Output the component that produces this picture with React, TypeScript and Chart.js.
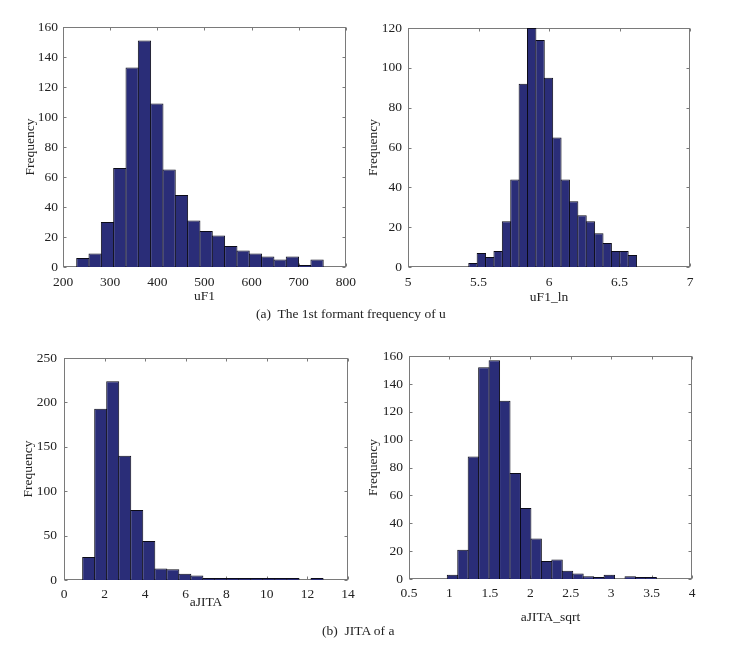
import React, { useEffect, useRef } from 'react';
import { Chart, registerables } from 'chart.js';

Chart.register(...registerables);

// ---- Data ----
const uF1Bins = [242.1, 268.2, 294.4, 320.5, 346.7, 372.8, 399.0, 425.1, 451.3, 477.4, 503.6, 529.7, 555.9, 582.0, 608.2, 634.3, 660.5, 686.6, 712.8, 738.9];
const uF1Counts = [6, 9, 30, 66, 133, 151, 109, 65, 48, 31, 24, 21, 14, 11, 9, 7, 5, 7, 1, 5];

const uF1LnBins = [5.4608, 5.5203, 5.5798, 5.6393, 5.6988, 5.7583, 5.8178, 5.8773, 5.9368, 5.9963, 6.0558, 6.1153, 6.1748, 6.2343, 6.2938, 6.3533, 6.4128, 6.4723, 6.5318, 6.5913];
const uF1LnCounts = [2, 7, 5, 8, 23, 44, 92, 120, 114, 95, 65, 44, 33, 26, 23, 17, 12, 8, 8, 6];

const aJitaBins = [1.216, 1.809, 2.401, 2.994, 3.586, 4.179, 4.771, 5.364, 5.956, 6.549, 7.141, 7.734, 8.326, 8.919, 9.511, 10.104, 10.696, 11.289, 11.881, 12.474];
const aJitaCounts = [26, 193, 224, 140, 79, 44, 13, 12, 7, 5, 2, 1, 1, 2, 1, 1, 1, 1, 0, 1];

const aJitaSqrtBins = [1.0381, 1.1674, 1.2967, 1.426, 1.5553, 1.6846, 1.8139, 1.9432, 2.0725, 2.2018, 2.3311, 2.4604, 2.5897, 2.719, 2.8483, 2.9776, 3.1069, 3.2362, 3.3655, 3.4948];
const aJitaSqrtCounts = [3, 21, 88, 152, 157, 128, 76, 51, 29, 13, 14, 6, 4, 2, 1, 3, 0, 2, 1, 1];

const captionA = '(a)  The 1st formant frequency of u';
const captionB = '(b)  JITA of a';
const yTitle = 'Frequency';

// ---- Style / layout ----
const FONT = "'Liberation Serif', 'Times New Roman', serif";
const TEXT = '#222222';
const FILL = '#2a2d78';
const EDGE = '#0b0b18';
const BOX = '#7a7a7a';

type Panel = {
  bins: number[];
  counts: number[];
  xTitle: string;
  xMin: number; xMax: number; xStep: number;
  yMax: number; yStep: number;
  plotLeft: number; plotTop: number; plotRight: number; plotBottom: number;
  yTitleX: number; xTitleY: number; xTickPad: number; yTickPad: number;
};

const panels: Panel[] = [
  { bins: uF1Bins, counts: uF1Counts, xTitle: 'uF1', xMin: 200, xMax: 800, xStep: 100, yMax: 160, yStep: 20,
    plotLeft: 63, plotTop: 26, plotRight: 347, plotBottom: 267, yTitleX: 30, xTitleY: 296, xTickPad: 7, yTickPad: 5 },
  { bins: uF1LnBins, counts: uF1LnCounts, xTitle: 'uF1_ln', xMin: 5, xMax: 7, xStep: 0.5, yMax: 120, yStep: 20,
    plotLeft: 408, plotTop: 26, plotRight: 690, plotBottom: 267, yTitleX: 373.5, xTitleY: 297, xTickPad: 7, yTickPad: 6 },
  { bins: aJitaBins, counts: aJitaCounts, xTitle: 'aJITA', xMin: 0, xMax: 14, xStep: 2, yMax: 250, yStep: 50,
    plotLeft: 64, plotTop: 355, plotRight: 348, plotBottom: 580, yTitleX: 28.5, xTitleY: 602, xTickPad: 6, yTickPad: 7 },
  { bins: aJitaSqrtBins, counts: aJitaSqrtCounts, xTitle: 'aJITA_sqrt', xMin: 0.5, xMax: 4, xStep: 0.5, yMax: 160, yStep: 20,
    plotLeft: 409, plotTop: 354, plotRight: 692, plotBottom: 579, yTitleX: 373, xTitleY: 617, xTickPad: 6, yTickPad: 6 },
];

const Y_AXIS_W = 62;
const X_AXIS_H = 50;
const PAD_TOP = 12;
const PAD_RIGHT = 16;
const FS = 13.5;
const LH = FS * 1.2;

const fmt = (v: number | string) => String(Math.round(Number(v) * 1000) / 1000);

const boxPlugin = {
  id: 'matlabBox',
  beforeDatasetsDraw(chart: any) {
    const { ctx, chartArea: a, scales } = chart;
    ctx.save();
    ctx.strokeStyle = BOX;
    ctx.lineWidth = 1;
    const l = Math.round(a.left) + 0.5;
    const r = Math.round(a.right) - 0.5;
    const t = Math.round(a.top) + 0.5;
    const b = Math.round(a.bottom) - 0.5;
    ctx.strokeRect(l, t, r - l, b - t);
    const len = 3;
    ctx.beginPath();
    scales.x.ticks.forEach((tk: any) => {
      const px = Math.round(scales.x.getPixelForValue(tk.value)) + 0.5;
      ctx.moveTo(px, b); ctx.lineTo(px, b - len);
      ctx.moveTo(px, t); ctx.lineTo(px, t + len);
    });
    scales.y.ticks.forEach((tk: any) => {
      const py = Math.round(scales.y.getPixelForValue(tk.value)) + 0.5;
      ctx.moveTo(l, py); ctx.lineTo(l + len, py);
      ctx.moveTo(r, py); ctx.lineTo(r - len, py);
    });
    ctx.stroke();
    ctx.restore();
  },
};

function Histogram({ p }: { p: Panel }) {
  const ref = useRef<HTMLCanvasElement | null>(null);
  const left = p.plotLeft - Y_AXIS_W;
  const top = p.plotTop - PAD_TOP;
  const width = p.plotRight - left + PAD_RIGHT;
  const height = p.plotBottom - top + X_AXIS_H;

  useEffect(() => {
    if (!ref.current) return;
    const plotW = p.plotRight - p.plotLeft;
    const spacing = ((p.bins[1] - p.bins[0]) / (p.xMax - p.xMin)) * plotW;
    const barPct = (spacing + 1) / spacing;
    const chart = new Chart(ref.current, {
      type: 'bar',
      data: {
        datasets: [{
          // empty bins draw nothing
          data: p.bins.map((b, i) => ({ x: b, y: p.counts[i] === 0 ? null : p.counts[i] })),
          backgroundColor: FILL,
          borderColor: EDGE,
          borderWidth: 1,
          borderSkipped: 'start',
          inflateAmount: 0,
          minBarLength: 2,
          barPercentage: barPct,
          categoryPercentage: 1,
        } as any],
      },
      options: {
        responsive: false,
        animation: false,
        events: [],
        layout: { padding: { top: PAD_TOP, right: PAD_RIGHT, left: 0, bottom: 0 } },
        plugins: { legend: { display: false }, tooltip: { enabled: false } },
        scales: {
          x: {
            type: 'linear',
            offset: false,
            min: p.xMin, max: p.xMax,
            grid: { display: false, offset: false, drawTicks: false },
            border: { display: false },
            ticks: { stepSize: p.xStep, padding: p.xTickPad, color: TEXT, font: { family: FONT, size: FS }, maxRotation: 0, callback: fmt },
            title: { display: true, text: p.xTitle, color: TEXT, font: { family: FONT, size: FS },
              padding: { top: 0, bottom: (p.plotBottom + X_AXIS_H) - p.xTitleY - LH / 2 } },
            afterFit: (s: any) => { s.height = X_AXIS_H; },
          },
          y: {
            min: 0, max: p.yMax,
            grid: { display: false, drawTicks: false },
            border: { display: false },
            ticks: { stepSize: p.yStep, padding: p.yTickPad, color: TEXT, font: { family: FONT, size: FS }, callback: fmt },
            title: { display: true, text: yTitle, color: TEXT, font: { family: FONT, size: FS },
              padding: { top: p.yTitleX - left - LH / 2, bottom: 0 } },
            afterFit: (s: any) => { s.width = Y_AXIS_W; },
          },
        },
      } as any,
      plugins: [boxPlugin],
    });
    return () => chart.destroy();
  }, []);

  return (
    <canvas
      ref={ref}
      width={width}
      height={height}
      style={{ position: 'absolute', left, top, width, height }}
    />
  );
}

export default function App() {
  const capStyle: React.CSSProperties = {
    position: 'absolute', fontFamily: FONT, fontSize: FS, lineHeight: '16px',
    color: TEXT, whiteSpace: 'pre',
  };
  return (
    <div style={{ position: 'absolute', left: 0, top: 0, width: 731, height: 665, background: '#ffffff', overflow: 'hidden' }}>
      {panels.map((p, i) => <Histogram key={i} p={p} />)}
      <div style={{ ...capStyle, left: 256, top: 306 }}>{captionA}</div>
      <div style={{ ...capStyle, left: 322, top: 623 }}>{captionB}</div>
    </div>
  );
}
